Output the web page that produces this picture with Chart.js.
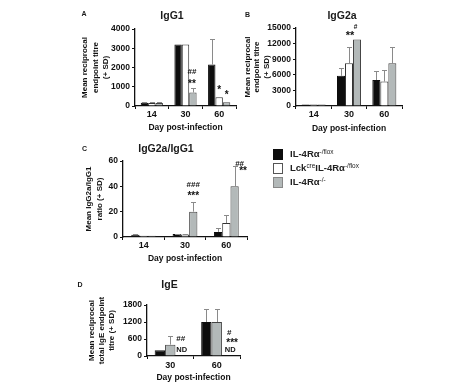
<!DOCTYPE html>
<html><head><meta charset="utf-8">
<script src="https://cdn.jsdelivr.net/npm/chart.js@4.4.1/dist/chart.umd.min.js"></script>
<style>
html,body{margin:0;padding:0;background:#fff;}
body{width:474px;height:390px;overflow:hidden;position:relative;font-family:"Liberation Sans",Arial,sans-serif;color:#1a1a1a;}
.pane{position:absolute;}
.t{position:absolute;font-weight:bold;white-space:nowrap;transform:translate(-50%,-50%);line-height:1;}
.lg{position:absolute;left:273px;width:8px;height:9px;border:1px solid #555;}
.lt{position:absolute;left:290px;font-weight:bold;font-size:9.5px;white-space:nowrap;transform:translateY(-50%);line-height:1;color:#222;}
.lt sup{font-size:68%;vertical-align:0.45em;line-height:0;font-weight:normal;}
</style></head><body>

<div class="pane" style="left:0;top:0;width:240px;height:135px"><canvas id="cA" width="240" height="135"></canvas></div>
<div class="pane" style="left:240px;top:0;width:234px;height:135px"><canvas id="cB" width="234" height="135"></canvas></div>
<div class="pane" style="left:0;top:135px;width:250px;height:130px"><canvas id="cC" width="250" height="130"></canvas></div>
<div class="pane" style="left:0;top:265px;width:250px;height:125px"><canvas id="cD" width="250" height="125"></canvas></div>

<div class="t" style="left:84px;top:12.5px;font-size:7px">A</div>
<div class="t" style="left:172px;top:15px;font-size:10.5px">IgG1</div>
<div class="t" style="left:247.5px;top:13.5px;font-size:7px">B</div>
<div class="t" style="left:342px;top:15px;font-size:10.5px">IgG2a</div>
<div class="t" style="left:84.5px;top:148px;font-size:7px">C</div>
<div class="t" style="left:166px;top:148px;font-size:10.5px">IgG2a/IgG1</div>
<div class="t" style="left:80px;top:284px;font-size:7px">D</div>
<div class="t" style="left:169.5px;top:284px;font-size:10.5px">IgE</div>

<div class="lg" style="top:148.5px;background:#0d0d0d;border-color:#0d0d0d"></div>
<div class="lg" style="top:162.5px;background:#ffffff"></div>
<div class="lg" style="top:176.5px;background:#b3b9b9;border-color:#888"></div>
<div class="lt" style="top:154px">IL-4Rα<sup>-/flox</sup></div>
<div class="lt" style="top:168px">Lck<sup>cre</sup>IL-4Rα<sup>-/flox</sup></div>
<div class="lt" style="top:182px">IL-4Rα<sup>-/-</sup></div>

<script>
// ---------------- DATA ----------------
const daysABC = ['14', '30', '60'];
const daysD = ['30', '60'];

// Panel A: IgG1 endpoint titre
const igg1Flox   = [170, 3200, 2150];
const igg1FloxSD = [60, 0, 1350];
const igg1Lck    = [160, 3200, 450];
const igg1LckSD  = [40, 0, 0];
const igg1Ko     = [160, 700, 200];
const igg1KoSD   = [40, 220, 0];
const ticksA = [0, 1000, 2000, 3000, 4000];

// Panel B: IgG2a endpoint titre
const igg2aFlox   = [300, 5800, 5000];
const igg2aFloxSD = [0, 1500, 1800];
const igg2aLck    = [300, 8200, 4700];
const igg2aLckSD  = [0, 3200, 2250];
const igg2aKo     = [300, 12800, 8200];
const igg2aKoSD   = [0, 0, 3200];
const ticksB = [0, 3000, 6000, 9000, 12000, 15000];

// Panel C: IgG2a/IgG1 ratio
const ratioFlox   = [1.8, 2.3, 4];
const ratioFloxSD = [0.6, 0.4, 3];
const ratioLck    = [1, 2, 11];
const ratioLckSD  = [0, 0.4, 6];
const ratioKo     = [1, 20, 40];
const ratioKoSD   = [0, 8, 16];
const ticksC = [0, 10, 20, 30, 40, 50, 60];

// Panel D: total IgE endpoint titre (third group not detected)
const igeFlox   = [200, 1200];
const igeFloxSD = [0, 450];
const igeLck    = [400, 1200];
const igeLckSD  = [300, 450];
const igeKo     = [null, null];
const ticksD = [0, 600, 1200, 1800];

// significance labels: [day, series, text]
const marksA = [['30', 2, '**'], ['30', 2, '##'], ['60', 1, '*'], ['60', 2, '*']];
const marksB = [['30', 1, '**'], ['30', 2, '#']];
const marksC = [['30', 2, '***'], ['30', 2, '###'], ['60', 2, '##'], ['60', 2, '**']];
const marksD = [['30', 2, 'ND'], ['30', 2, '##'], ['60', 2, 'ND'], ['60', 2, '***'], ['60', 2, '#']];

// ---------------- LAYOUT / STYLE ----------------
// pixel nudges for the labels above: [dx, dy, fontSize]
const marksAPos = [[-1, -4, 10], [-1, -16, 8], [0, -7, 10], [0, -6.5, 10]];
const marksBPos = [[1, -11, 11], [-1.5, -12.5, 6.5]];
const marksCPos = [[0, -5, 10], [0, -17, 8], [5, -2, 8], [8.5, 5.5, 10]];
const marksDPos = [[1, -6, 7.5], [0, -17, 8], [3, -6, 7.5], [5, -12.5, 10], [2, -23.5, 8]];

const FONT = '"Liberation Sans", Arial, sans-serif';
const INK = '#111';
const COLORS = ['#0d0d0d', '#ffffff', '#b3b9b9'];
const BORDERS = ['#0d0d0d', '#333333', '#444444'];

const errorBars = {
  id: 'errorBars',
  afterDatasetsDraw(chart) {
    const ctx = chart.ctx, ys = chart.scales.y;
    chart.data.datasets.forEach((ds, i) => {
      if (!ds.sd) return;
      chart.getDatasetMeta(i).data.forEach((bar, j) => {
        const v = ds.data[j], e = ds.sd[j];
        if (v == null || !e) return;
        const x = Math.round(bar.x) + 0.5;
        const yt = Math.round(ys.getPixelForValue(v + e)) + 0.5;
        ctx.save();
        ctx.strokeStyle = '#8a8a8a';
        ctx.lineWidth = 1;
        ctx.beginPath();
        ctx.moveTo(x, bar.y);
        ctx.lineTo(x, yt);
        ctx.moveTo(x - 2.5, yt);
        ctx.lineTo(x + 2.5, yt);
        ctx.stroke();
        ctx.restore();
      });
    });
  }
};

function marksPlugin(marks, pos) {
  return {
    id: 'marks',
    afterDraw(chart) {
      const ctx = chart.ctx, ys = chart.scales.y;
      const labels = chart.data.labels;
      marks.forEach((m, k) => {
        const [day, s, text] = m;
        const [dx, dy, fs] = pos[k];
        const idx = labels.indexOf(day);
        const ds = chart.data.datasets[s];
        const bar = chart.getDatasetMeta(s).data[idx];
        const v = ds.data[idx];
        const top = v == null ? 0 : v + ((ds.sd && ds.sd[idx]) || 0);
        const y = ys.getPixelForValue(top);
        ctx.save();
        ctx.fillStyle = INK;
        ctx.font = 'bold ' + fs + 'px ' + FONT;
        ctx.textAlign = 'center';
        ctx.textBaseline = 'middle';
        ctx.fillText(text, bar.x + dx, y + dy);
        ctx.restore();
      });
    }
  };
}

function makeChart(id, o) {
  const datasets = o.series.map((d, i) => ({
    label: o.names[i],
    data: d,
    sd: o.sds[i],
    backgroundColor: o.colors ? o.colors[i] : COLORS[i],
    borderColor: o.borders ? o.borders[i] : BORDERS[i],
    borderWidth: 1,
    categoryPercentage: o.cat,
    barPercentage: 1
  }));
  return new Chart(document.getElementById(id), {
    type: 'bar',
    data: { labels: o.labels, datasets },
    options: {
      responsive: false,
      animation: false,
      events: [],
      layout: { padding: o.pad },
      plugins: { legend: { display: false }, tooltip: { enabled: false }, title: { display: false } },
      scales: {
        x: {
          afterFit: s => { s.height = o.xH; },
          border: { display: true, color: INK, width: 1.3 },
          grid: { drawOnChartArea: false, drawTicks: true, tickLength: 3, color: INK, offset: true },
          ticks: { font: { family: FONT, size: 9, weight: 'bold' }, color: INK, padding: o.xPad || 0 },
          title: { display: true, text: 'Day post-infection', font: { family: FONT, size: 8.5, weight: 'bold', lineHeight: 1.2 }, color: INK, padding: 0 }
        },
        y: {
          min: 0, max: o.ticks[o.ticks.length - 1],
          afterFit: s => { s.width = o.yW; },
          afterBuildTicks: s => { s.ticks = o.ticks.map(v => ({ value: v })); },
          border: { display: true, color: INK, width: 1.3 },
          grid: { drawOnChartArea: false, drawTicks: true, tickLength: 3, color: INK },
          ticks: { font: { family: FONT, size: 8.5, weight: 'bold' }, color: INK, padding: 2, callback: v => String(v) },
          title: { display: true, text: o.yTitle, font: { family: FONT, size: 8, weight: 'bold', lineHeight: o.yLH || 1.3 }, color: INK, padding: 0 }
        }
      }
    },
    plugins: [errorBars, marksPlugin(o.marks, o.marksPos)]
  });
}

const names = ['IL-4Rα-/flox', 'LckcreIL-4Rα-/flox', 'IL-4Rα-/-'];

makeChart('cA', {
  labels: daysABC, names,
  series: [igg1Flox, igg1Lck, igg1Ko], sds: [igg1FloxSD, igg1LckSD, igg1KoSD],
  ticks: ticksA, cat: 0.66,
  yTitle: ['Mean reciprocal', 'endpoint titre', '(+ SD)'],
  pad: { left: 79.8, right: 4, top: 29, bottom: 2.6 }, yW: 55.2, xH: 26.4,
  marks: marksA, marksPos: marksAPos
});

makeChart('cB', {
  labels: daysABC, names,
  series: [igg2aFlox, igg2aLck, igg2aKo], sds: [igg2aFloxSD, igg2aLckSD, igg2aKoSD],
  ticks: ticksB, cat: 0.68,
  yTitle: ['Mean reciprocal', 'endpoint titre', '(+ SD)'],
  pad: { left: 2.8, right: 72, top: 28, bottom: 1.6 }, yW: 53.2, xH: 27.4, yLH: 1.2,
  marks: marksB, marksPos: marksBPos
});

makeChart('cC', {
  labels: daysABC, names,
  series: [ratioFlox, ratioLck, ratioKo], sds: [ratioFloxSD, ratioLckSD, ratioKoSD],
  ticks: ticksC, cat: 0.6,
  yTitle: ['Mean IgG2a/IgG1', 'ratio (+ SD)'],
  pad: { left: 84, right: 3, top: 26, bottom: 1.6 }, yW: 39, xH: 26.4,
  marks: marksC, marksPos: marksCPos
});

makeChart('cD', {
  labels: daysD, names,
  series: [igeFlox, igeLck, igeKo], sds: [igeFloxSD, igeLckSD, null],
  colors: ['#0d0d0d', '#b3b9b9', '#ffffff'], borders: ['#0d0d0d', '#444444', '#333333'],
  ticks: ticksD, cat: 0.67,
  yTitle: ['Mean reciprocal', 'total IgE endpoint', 'titre (+ SD)'],
  pad: { left: 87, right: 10, top: 40, bottom: 7.6 }, yW: 60, xH: 26.4, xPad: 1, yLH: 1.25,
  marks: marksD, marksPos: marksDPos
});
</script>
</body></html>
